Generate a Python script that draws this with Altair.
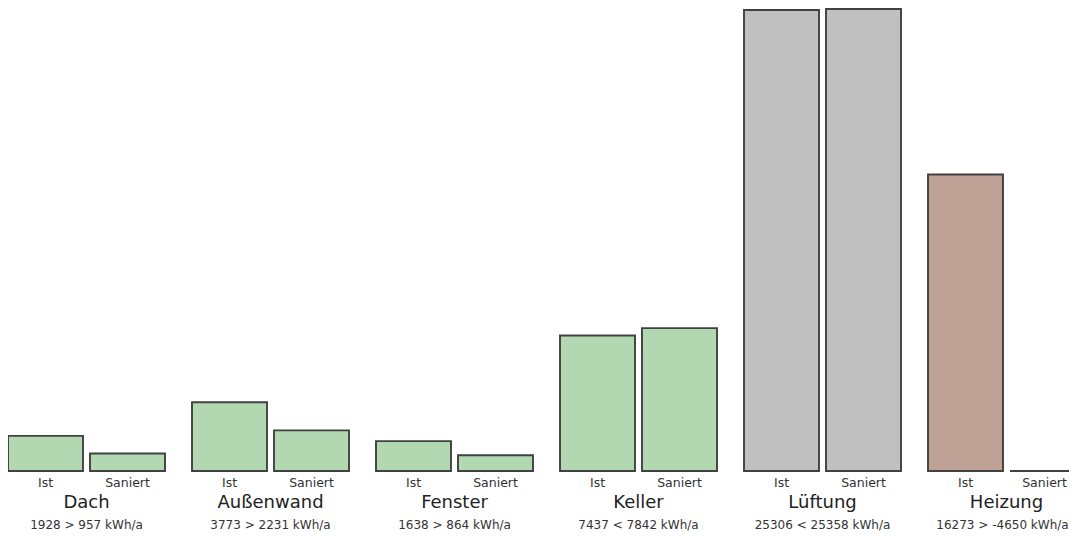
import altair as alt
import pandas as pd

groups = ["Dach", "Außenwand", "Fenster", "Keller", "Lüftung", "Heizung"]
ist_values = [1928, 3773, 1638, 7437, 25306, 16273]
saniert_values = [957, 2231, 864, 7842, 25358, -4650]
kinds = ["Bauteil", "Bauteil", "Bauteil", "Bauteil", "Lüftung", "Heizung"]
series_labels = ["Ist", "Saniert"]
unit = "kWh/a"

kind_domain = ["Bauteil", "Lüftung", "Heizung"]
kind_colors = ["#b1d8b0", "#c0c0c0", "#bfa195"]

rows = []
for g, i, s, k in zip(groups, ist_values, saniert_values, kinds):
    sign = ">" if i > s else "<"
    summary = f"{i} {sign} {s} {unit}"
    rows.append(dict(group=g, series="Ist", value=i, kind=k, summary=summary))
    rows.append(dict(group=g, series="Saniert", value=s, kind=k, summary=summary))
df = pd.DataFrame(rows)

FONT = "DejaVu Sans"
W = 1061
H = 532
LAST = groups[-1]

x_enc = alt.X(
    "group:N",
    sort=groups,
    scale=alt.Scale(range=[0, 1077], paddingInner=27 / 184, paddingOuter=0),
    axis=None,
)
xoff_enc = alt.XOffset(
    "series:N",
    sort=series_labels,
    scale=alt.Scale(paddingInner=0.0854, paddingOuter=0),
)

base = alt.Chart(df).transform_calculate(shown="max(datum.value, 0)")

bars = base.mark_bar(stroke="#404040", strokeWidth=1.9).encode(
    x=x_enc,
    xOffset=xoff_enc,
    y=alt.Y(
        "shown:Q",
        scale=alt.Scale(domain=[0, 25358], range=[463, 1], nice=False, zero=True),
        axis=None,
    ),
    color=alt.Color(
        "kind:N",
        scale=alt.Scale(domain=kind_domain, range=kind_colors),
        legend=None,
    ),
)

edge_filter = f"datum.group == '{LAST}' && datum.series == 'Saniert'"

series_style = dict(font=FONT, fontSize=12.5, color="#333333", baseline="alphabetic", align="center")
series_text = base.transform_filter(f"!({edge_filter})").mark_text(**series_style).encode(
    x=x_enc, xOffset=xoff_enc, y=alt.value(479), text="series:N"
)
series_text_edge = base.transform_filter(edge_filter).mark_text(dx=-3, **series_style).encode(
    x=x_enc, xOffset=xoff_enc, y=alt.value(479), text="series:N"
)

names = base.transform_filter("datum.series == 'Ist'").mark_text(
    font=FONT, fontSize=18, color="#222222", baseline="alphabetic", align="center"
).encode(x=x_enc, y=alt.value(500), text="group:N")

summ_style = dict(font=FONT, fontSize=12, color="#333333", baseline="alphabetic", align="center")
summ = base.transform_filter(f"datum.series == 'Ist' && datum.group != '{LAST}'").mark_text(
    **summ_style
).encode(x=x_enc, y=alt.value(521), text="summary:N")
summ_edge = base.transform_filter(f"datum.series == 'Ist' && datum.group == '{LAST}'").mark_text(
    dx=-4, **summ_style
).encode(x=x_enc, y=alt.value(521), text="summary:N")

chart = (
    alt.layer(bars, series_text, series_text_edge, names, summ, summ_edge)
    .properties(
        width=W,
        height=H,
        padding=0,
        autosize=alt.AutoSizeParams(type="none"),
    )
    .configure_view(stroke=None)
)

chart.save("out.html", embed_options={"renderer": "svg", "actions": False})
